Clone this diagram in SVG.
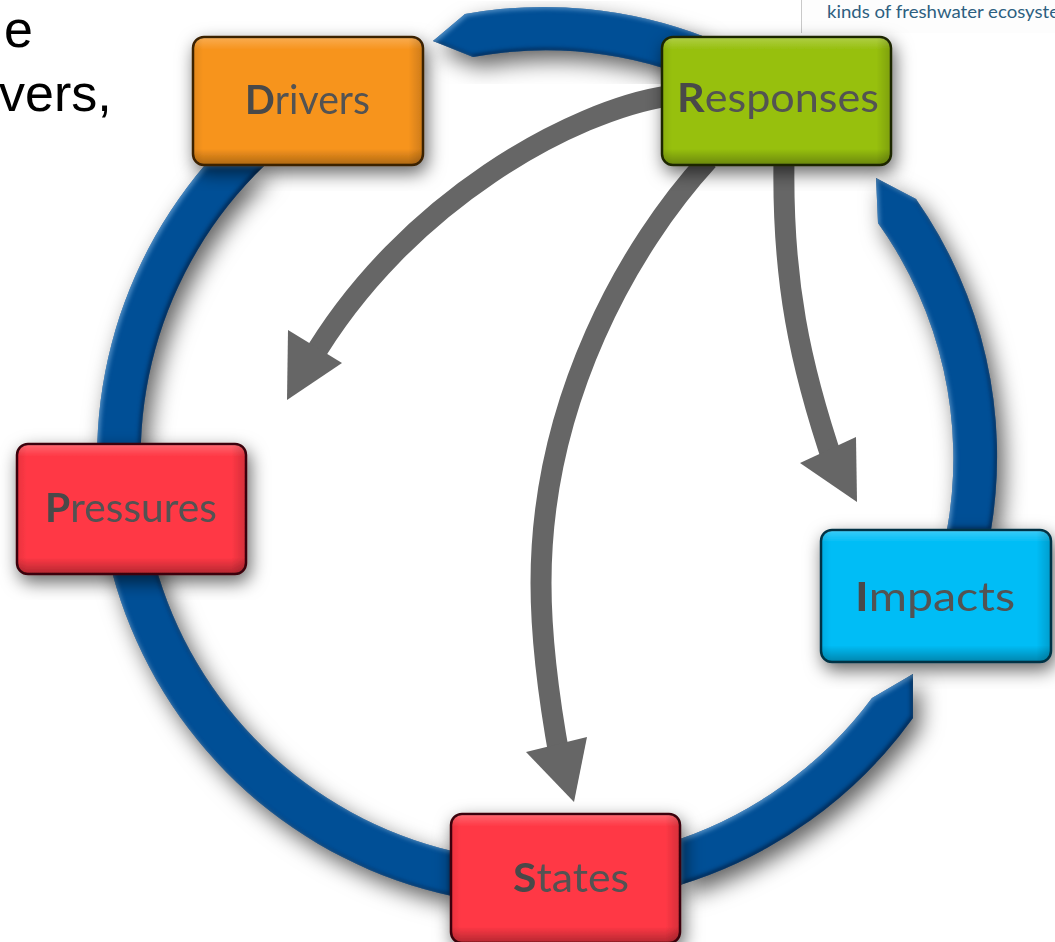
<svg xmlns="http://www.w3.org/2000/svg" width="1055" height="942" viewBox="0 0 1055 942">
<style>
.ring{fill:#004f96;filter:url(#ringShadow)}
.shaft{fill:none;stroke:#666;stroke-width:21}
.head{fill:#666}
.box{stroke-width:2.5}
.lab{font-family:"Lato","Noto Sans",sans-serif;font-size:41px;fill:#525252;font-weight:400}
.lab tspan{font-weight:700;fill:#484848}
.frag{font-family:"Liberation Sans",Arial,sans-serif;font-size:52px;fill:#000}
.clip{font-family:"Lato","Noto Sans",sans-serif;font-size:18px;fill:#2d5f80}
</style>
<defs>
<linearGradient id="bevV" x1="0" y1="0" x2="0" y2="1">
<stop offset="0" stop-color="#fff" stop-opacity=".22"/><stop offset=".09" stop-color="#fff" stop-opacity="0"/>
<stop offset=".88" stop-color="#000" stop-opacity="0"/><stop offset="1" stop-color="#000" stop-opacity=".28"/></linearGradient>
<linearGradient id="bevH" x1="0" y1="0" x2="1" y2="0">
<stop offset="0" stop-color="#000" stop-opacity=".08"/><stop offset=".04" stop-color="#000" stop-opacity="0"/>
<stop offset=".94" stop-color="#000" stop-opacity="0"/><stop offset="1" stop-color="#000" stop-opacity=".16"/></linearGradient>
<filter id="ringShadow" x="-25%" y="-25%" width="150%" height="150%" color-interpolation-filters="sRGB">
<feGaussianBlur in="SourceAlpha" stdDeviation="11" result="b"/>
<feOffset in="b" dx="7" dy="10" result="o"/>
<feFlood flood-color="#000" flood-opacity=".62"/><feComposite in2="o" operator="in" result="drop"/>
<feGaussianBlur in="SourceAlpha" stdDeviation="2.2" result="e"/>
<feOffset in="e" dx="-2" dy="-2" result="eo"/>
<feFlood flood-color="#001a3c" flood-opacity=".75"/><feComposite in2="eo" operator="out" result="dk"/>
<feComposite in="dk" in2="SourceAlpha" operator="in" result="innerDark"/>
<feOffset in="e" dx="2" dy="2" result="lo"/>
<feFlood flood-color="#5f9bd0" flood-opacity=".8"/><feComposite in2="lo" operator="out" result="lt"/>
<feComposite in="lt" in2="SourceAlpha" operator="in" result="innerLight"/>
<feMerge><feMergeNode in="drop"/><feMergeNode in="SourceGraphic"/><feMergeNode in="innerDark"/><feMergeNode in="innerLight"/></feMerge>
</filter>
<filter id="boxShadow" x="-20%" y="-20%" width="140%" height="140%"><feDropShadow dx="3" dy="7" stdDeviation="9" flood-color="#000" flood-opacity=".6"/></filter>
</defs>

<rect x="801" y="0" width="254" height="33" fill="#fdfdfd"/>
<line x1="801.5" y1="0" x2="801.5" y2="33" stroke="#c9c9c9" stroke-width="1"/>
<text class="clip" x="827" y="18" textLength="232" lengthAdjust="spacingAndGlyphs">kinds of freshwater ecosyste</text>
<text class="frag" x="4" y="47">e</text>
<text class="frag" x="-1" y="111">vers,</text>

<g id="connectors">
<path class="ring" d="M433 41L465 14A449 449 0 0 1 705 37L663 68A405 405 0 0 0 473 57Z"/>
<path class="ring" d="M876 178L916 199A449 449 0 0 1 991 530L947 530A405 405 0 0 0 878 223Z"/>
<path class="ring" d="M913 674L872 698A405 405 0 0 1 680 839L680 885A449 449 0 0 0 913 718Z"/>
<path class="ring" d="M452 851A405 405 0 0 1 265 165L205 165A449 449 0 0 0 452 896Z"/>
<path class="shaft" d="M668 96C575 110 405 200 310 362"/>
<polygon class="head" points="287,400 288,330 342,363"/>
<path class="shaft" d="M708 160C630 245 541 400 541 583C541 640 549 700 560 760"/>
<polygon class="head" points="574,802 526,752 587,737"/>
<path class="shaft" d="M784 160C782 280 800 365 834 465"/>
<polygon class="head" points="857,502 800,463 856,437"/>
</g>

<g id="drivers" filter="url(#boxShadow)">
<rect class="box" x="193" y="37" width="230" height="128" rx="11" fill="#f7941d" stroke="#3a2005"/>
<rect x="194" y="38" width="228" height="126" rx="10" fill="url(#bevV)"/><rect x="194" y="38" width="228" height="126" rx="10" fill="url(#bevH)"/>
<text class="lab" x="245" y="114" textLength="125" lengthAdjust="spacingAndGlyphs"><tspan>D</tspan>rivers</text>
</g>
<g id="responses" filter="url(#boxShadow)">
<rect class="box" x="662" y="37" width="229" height="128" rx="11" fill="#97c00e" stroke="#1e2603"/>
<rect x="663" y="38" width="227" height="126" rx="10" fill="url(#bevV)"/><rect x="663" y="38" width="227" height="126" rx="10" fill="url(#bevH)"/>
<text class="lab" x="677" y="112" textLength="202" lengthAdjust="spacingAndGlyphs"><tspan>R</tspan>esponses</text>
</g>
<g id="pressures" filter="url(#boxShadow)">
<rect class="box" x="17" y="444" width="229" height="130" rx="11" fill="#ff3845" stroke="#3a0509"/>
<rect x="18" y="445" width="227" height="128" rx="10" fill="url(#bevV)"/><rect x="18" y="445" width="227" height="128" rx="10" fill="url(#bevH)"/>
<text class="lab" x="45" y="522" textLength="172" lengthAdjust="spacingAndGlyphs"><tspan>P</tspan>ressures</text>
</g>
<g id="impacts" filter="url(#boxShadow)">
<rect class="box" x="821" y="530" width="230" height="132" rx="11" fill="#00bdf6" stroke="#063344"/>
<rect x="822" y="531" width="228" height="130" rx="10" fill="url(#bevV)"/><rect x="822" y="531" width="228" height="130" rx="10" fill="url(#bevH)"/>
<text class="lab" x="855" y="611" textLength="160" lengthAdjust="spacingAndGlyphs"><tspan>I</tspan>mpacts</text>
</g>
<g id="states" filter="url(#boxShadow)">
<rect class="box" x="451" y="814" width="229" height="129" rx="11" fill="#ff3845" stroke="#3a0509"/>
<rect x="452" y="815" width="227" height="127" rx="10" fill="url(#bevV)"/><rect x="452" y="815" width="227" height="127" rx="10" fill="url(#bevH)"/>
<text class="lab" x="513" y="892" textLength="116" lengthAdjust="spacingAndGlyphs"><tspan>S</tspan>tates</text>
</g>
</svg>
